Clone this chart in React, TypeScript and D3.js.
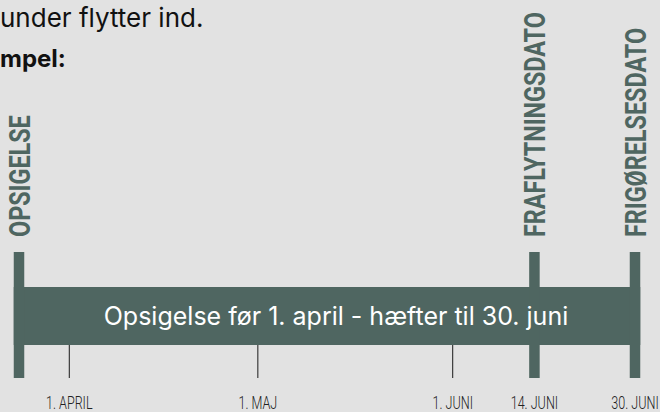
import React from 'react';
import * as d3 from 'd3';

// milestones drawn as tall markers
const eventLabels = ['OPSIGELSE', 'FRAFLYTNINGSDATO', 'FRIGØRELSESDATO'];
const eventDates = ['2024-03-24', '2024-06-14', '2024-06-30'];

// date ticks under the band
const tickLabels = ['1. APRIL', '1. MAJ', '1. JUNI', '14. JUNI', '30. JUNI'];
const tickDates = ['2024-04-01', '2024-05-01', '2024-06-01', '2024-06-14', '2024-06-30'];

const bandText = 'Opsigelse før 1. april - hæfter til 30. juni';
const introLine = 'under flytter ind.';
const exampleLine = 'mpel:';

const W = 660;
const H = 412;
const BG = '#e2e2e2';
const GREEN = '#4f6661';
const SANS = 'Inter, "Noto Sans", sans-serif';

export default function App() {
  const parse = d3.timeParse('%Y-%m-%d');
  const events = eventDates.map(parse) as Date[];
  const ticks = tickDates.map(parse) as Date[];

  const x = d3.scaleTime()
    .domain(d3.extent(events) as [Date, Date])
    .range([19, 635]);

  const markerW = 10.5;
  const markerTop = 252;
  const markerBottom = 378;
  const bandTop = 287;
  const bandBottom = 345;
  const labelBottom = 237;

  const x0 = x(events[0]) - markerW / 2;
  const x1 = x(events[events.length - 1]) + markerW / 2;

  return (
    <svg width={W} height={H} style={{ position: 'absolute', left: 0, top: 0, display: 'block' }}>
      <rect width={W} height={H} fill={BG} />

      {/* intro text, cut off by the crop */}
      <text x={0} y={27} fontFamily={SANS} fontSize={26} fill="#111">{introLine}</text>
      <text x={0} y={67} fontFamily={SANS} fontSize={24} fontWeight={700} fill="#111">{exampleLine}</text>

      {/* thin ticks */}
      {ticks.map((d, i) => (
        <line key={'t' + i} x1={x(d)} x2={x(d)} y1={bandBottom} y2={markerBottom}
          stroke="#1a1a1a" strokeWidth={1} />
      ))}

      {/* band */}
      <rect x={x0} y={bandTop} width={x1 - x0} height={bandBottom - bandTop} fill={GREEN} />

      {/* event markers + rotated labels */}
      {events.map((d, i) => (
        <g key={'e' + i}>
          <rect x={x(d) - markerW / 2} y={markerTop} width={markerW}
            height={markerBottom - markerTop} fill={GREEN} />
          <text transform={`translate(${x(d) + 11},${labelBottom}) rotate(-90) scale(0.78,1)`}
            fontFamily="Roboto, sans-serif" fontWeight={700} fontSize={30} fill={GREEN}>
            {eventLabels[i]}
          </text>
        </g>
      ))}

      {/* band caption on top of everything */}
      <text x={(x0 + x1) / 2 + 9} y={325} textAnchor="middle" fontFamily={SANS}
        fontSize={25} fill="#ffffff">{bandText}</text>

      {/* tick labels */}
      {ticks.map((d, i) => (
        <text key={'l' + i} transform={`translate(${x(d)},409) scale(0.7,1)`}
          textAnchor="middle" fontFamily="Roboto, sans-serif" fontWeight={300}
          fontSize={18} fill="#222">{tickLabels[i]}</text>
      ))}
    </svg>
  );
}
